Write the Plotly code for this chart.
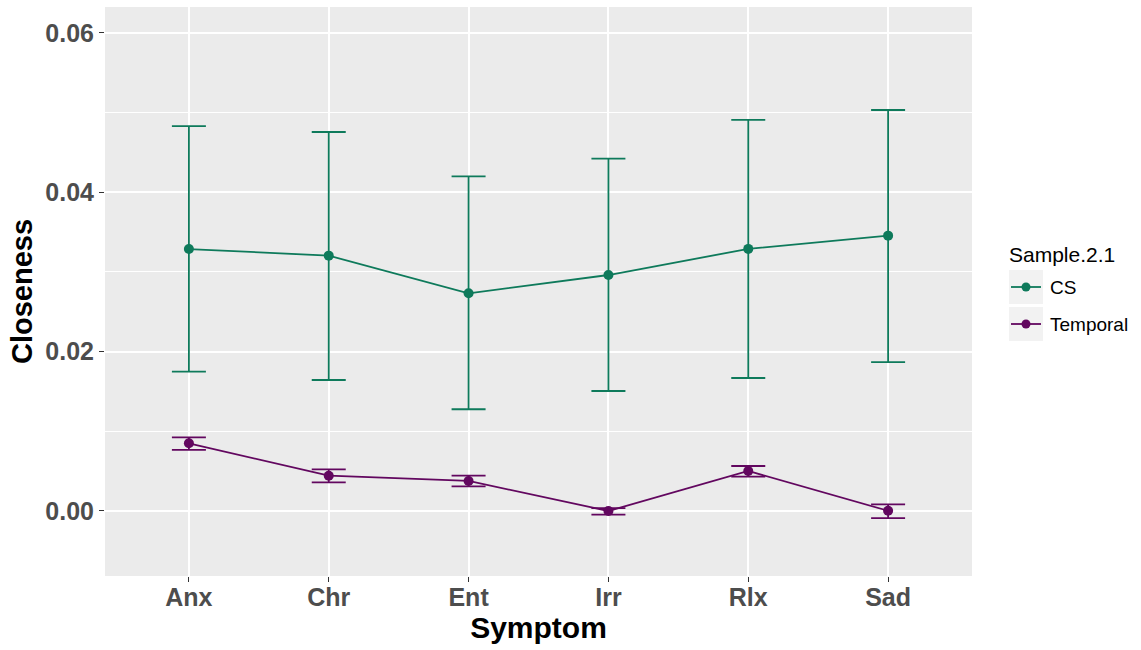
import plotly.graph_objects as go

symptoms = ["Anx", "Chr", "Ent", "Irr", "Rlx", "Sad"]

cs_mean = [0.03288, 0.03205, 0.02732, 0.02962, 0.03290, 0.03456]
cs_upper = [0.04832, 0.04757, 0.04201, 0.04422, 0.04910, 0.05033]
cs_lower = [0.01749, 0.01644, 0.01277, 0.01506, 0.01669, 0.01868]

tm_mean = [0.00850, 0.00443, 0.00377, 0.00000, 0.00502, 0.00003]
tm_upper = [0.00925, 0.00523, 0.00443, 0.00035, 0.00565, 0.00083]
tm_lower = [0.00766, 0.00360, 0.00310, -0.00045, 0.00431, -0.00090]

series = [
    ("CS", "#0E7A5B", cs_mean, cs_upper, cs_lower),
    ("Temporal", "#62075F", tm_mean, tm_upper, tm_lower),
]

FONT = "Liberation Sans, Arial, Helvetica, sans-serif"

fig = go.Figure()
for name, color, mean, up, lo in series:
    fig.add_trace(go.Scatter(
        x=symptoms, y=mean, name=name, mode="lines+markers",
        line=dict(color=color, width=1.8),
        marker=dict(color=color, size=10),
        error_y=dict(type="data", symmetric=False,
                     array=[u - m for u, m in zip(up, mean)],
                     arrayminus=[m - l for m, l in zip(mean, lo)],
                     color=color, thickness=1.8, width=17),
        showlegend=False,
    ))

# plot area geometry (pixels) for the custom legend
L, R, T, B = 105, 169, 7, 74
W, H = 1141 - L - R, 650 - T - B


def px(xp):
    return (xp - L) / W


def py(yp):
    return (650 - B - yp) / H


shapes = []
annotations = [dict(text="Sample.2.1", x=px(1007), y=py(254), xref="paper", yref="paper",
                    xanchor="left", yanchor="middle", showarrow=False,
                    font=dict(family=FONT, size=21, color="#000000"))]
key_tops = [270, 307]
for (name, color, *_), top in zip(series, key_tops):
    shapes.append(dict(type="rect", xref="paper", yref="paper",
                       x0=px(1009), x1=px(1043), y0=py(top), y1=py(top + 34),
                       fillcolor="#F2F2F2", line=dict(width=0), layer="below"))
    cy = top + 17
    shapes.append(dict(type="line", xref="paper", yref="paper",
                       x0=px(1011), x1=px(1041), y0=py(cy), y1=py(cy),
                       line=dict(color=color, width=1.8)))
    shapes.append(dict(type="circle", xref="paper", yref="paper",
                       x0=px(1021.5), x1=px(1030.5), y0=py(cy - 4.5), y1=py(cy + 4.5),
                       fillcolor=color, line=dict(width=0)))
    annotations.append(dict(text=name, x=px(1048), y=py(cy), xref="paper", yref="paper",
                            xanchor="left", yanchor="middle", showarrow=False,
                            font=dict(family=FONT, size=19, color="#000000")))

fig.update_layout(
    width=1141, height=650,
    margin=dict(l=L, r=R, t=T, b=B, autoexpand=False),
    paper_bgcolor="white", plot_bgcolor="#EBEBEB",
    font=dict(family=FONT),
    shapes=shapes, annotations=annotations,
    xaxis=dict(
        type="category", categoryorder="array", categoryarray=symptoms,
        range=[-0.6, 5.6], showgrid=True, gridcolor="white", gridwidth=2,
        zeroline=False, showline=False,
        ticks="outside", ticklen=5, tickcolor="#333333", tickwidth=1,
        ticklabelstandoff=-6,
        tickfont=dict(family=FONT, size=25, color="#4D4D4D", weight="bold"),
        title=dict(text="<b>Symptom</b>", standoff=5,
                   font=dict(family=FONT, size=30, color="#000000")),
        automargin=False,
    ),
    yaxis=dict(
        range=[-0.00816, 0.06326], tickvals=[0, 0.02, 0.04, 0.06],
        ticktext=["0.00", "0.02", "0.04", "0.06"],
        showgrid=True, gridcolor="white", gridwidth=2,
        minor=dict(tickvals=[0.01, 0.03, 0.05], showgrid=True, gridcolor="white",
                   gridwidth=1, ticks=""),
        zeroline=False, showline=False,
        ticks="outside", ticklen=5, tickcolor="#333333", tickwidth=1,
        tickfont=dict(family=FONT, size=25, color="#4D4D4D", weight="bold"),
        title=dict(text="<b>Closeness</b>", standoff=4,
                   font=dict(family=FONT, size=29, color="#000000")),
        automargin=False,
    ),
)

fig.write_html("out.html")
